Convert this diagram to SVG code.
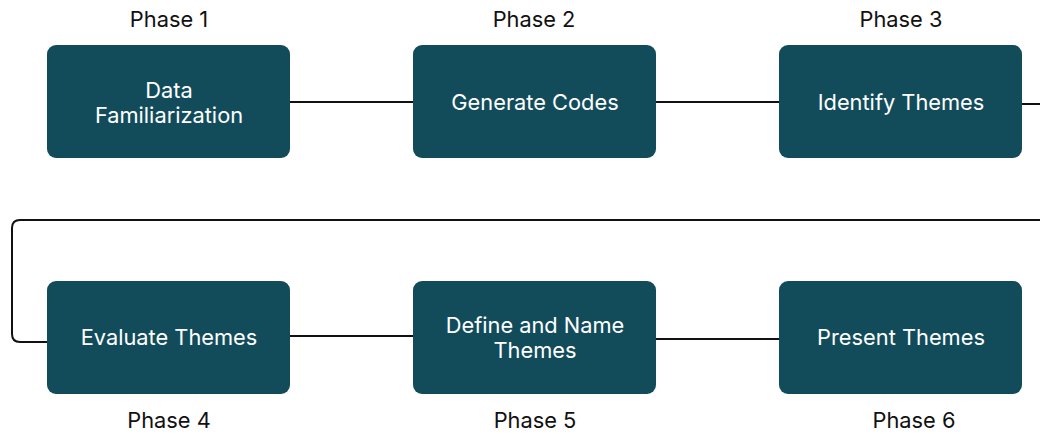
<svg xmlns="http://www.w3.org/2000/svg" width="1040" height="434" viewBox="0 0 1040 434">
  <style>
    .box { fill: #124c5b; }
    .label { font-family: Inter, "Noto Sans", sans-serif; font-size: 21.8px; fill: #ffffff; text-anchor: middle; }
    .phase { font-family: Inter, "Noto Sans", sans-serif; font-size: 21.8px; fill: #111111; text-anchor: middle; }
    .wire { fill: none; stroke: #111111; stroke-width: 2; }
  </style>
  <rect width="1040" height="434" fill="#ffffff"/>

  <g id="connectors">
    <path class="wire" d="M290 102 H413"/>
    <path class="wire" d="M656 102 H779"/>
    <path class="wire" d="M1022 104 H1040"/>
    <path class="wire" d="M1040 220 H20 Q12 220 12 228 V334 Q12 342 20 342 H47"/>
    <path class="wire" d="M290 336 H413"/>
    <path class="wire" d="M656 339 H779"/>
  </g>

  <g id="phase1">
    <text class="phase" x="169" y="27">Phase 1</text>
    <rect class="box" x="47" y="45" width="243" height="113" rx="9"/>
    <text class="label" x="169" y="98">Data</text>
    <text class="label" x="169" y="123">Familiarization</text>
  </g>

  <g id="phase2">
    <text class="phase" x="534" y="27">Phase 2</text>
    <rect class="box" x="413" y="45" width="243" height="113" rx="9"/>
    <text class="label" x="535" y="110">Generate Codes</text>
  </g>

  <g id="phase3">
    <text class="phase" x="901" y="27">Phase 3</text>
    <rect class="box" x="779" y="45" width="243" height="113" rx="9"/>
    <text class="label" x="901" y="110">Identify Themes</text>
  </g>

  <g id="phase4">
    <rect class="box" x="47" y="281" width="243" height="113" rx="9"/>
    <text class="label" x="169" y="345">Evaluate Themes</text>
    <text class="phase" x="169" y="428">Phase 4</text>
  </g>

  <g id="phase5">
    <rect class="box" x="413" y="281" width="243" height="113" rx="9"/>
    <text class="label" x="535" y="333">Define and Name</text>
    <text class="label" x="535" y="358">Themes</text>
    <text class="phase" x="535" y="428">Phase 5</text>
  </g>

  <g id="phase6">
    <rect class="box" x="779" y="281" width="243" height="113" rx="9"/>
    <text class="label" x="901" y="345">Present Themes</text>
    <text class="phase" x="914" y="428">Phase 6</text>
  </g>
</svg>
